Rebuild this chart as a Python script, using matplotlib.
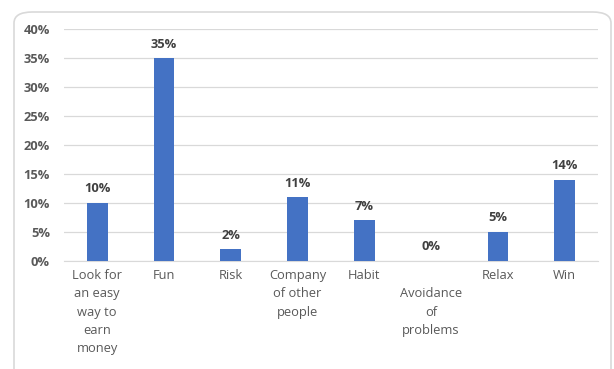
import matplotlib.pyplot as plt
from matplotlib.patches import FancyBboxPatch

# --- data ---
categories = ["Look for\nan easy\nway to\nearn\nmoney", "Fun", "Risk",
              "Company\nof other\npeople", "Habit",
              "\nAvoidance\nof\nproblems", "Relax", "Win"]
values = [10, 35, 2, 11, 7, 0, 5, 14]
yticks = [0, 5, 10, 15, 20, 25, 30, 35, 40]

plt.rcParams['font.family'] = ['Open Sans', 'DejaVu Sans']

fig = plt.figure(figsize=(6.14, 3.69), dpi=100)
ax = fig.add_axes([0.104, 0.293, 0.870, 0.628])

# rounded chart border
border = FancyBboxPatch((14 / 614, -0.05), 597 / 614, 1 - 12 / 369 + 0.05,
                        boxstyle="round,pad=0,rounding_size=0.03",
                        transform=fig.transFigure, facecolor="white",
                        edgecolor="#d9d9d9", linewidth=1.2, zorder=-10)
fig.patches.append(border)

x = list(range(len(values)))
ax.bar(x, values, width=0.31, color="#4472c4", zorder=3)

for xi, v in zip(x, values):
    ax.text(xi, v + 1.3, f"{v}%", ha="center", va="bottom",
            fontsize=9.3, fontweight="bold", color="#404040")

ax.set_xlim(-0.5, len(values) - 0.5)
ax.set_ylim(0, 40)
ax.set_yticks(yticks)
ax.set_yticklabels([f"{t}%" for t in yticks], fontsize=9.3,
                   fontweight="bold", color="#595959")
ax.set_xticks(x)
ax.set_xticklabels(categories, fontsize=9.3, color="#595959",
                   linespacing=1.52, va="top")
ax.tick_params(axis="both", length=0)
ax.tick_params(axis="x", pad=6)
ax.tick_params(axis="y", pad=10)

ax.grid(axis="y", color="#d9d9d9", linewidth=0.9, zorder=0)
ax.set_axisbelow(True)
for s in ["top", "right", "left"]:
    ax.spines[s].set_visible(False)
ax.spines["bottom"].set_color("#d9d9d9")

fig.savefig("out.png", dpi=100)
